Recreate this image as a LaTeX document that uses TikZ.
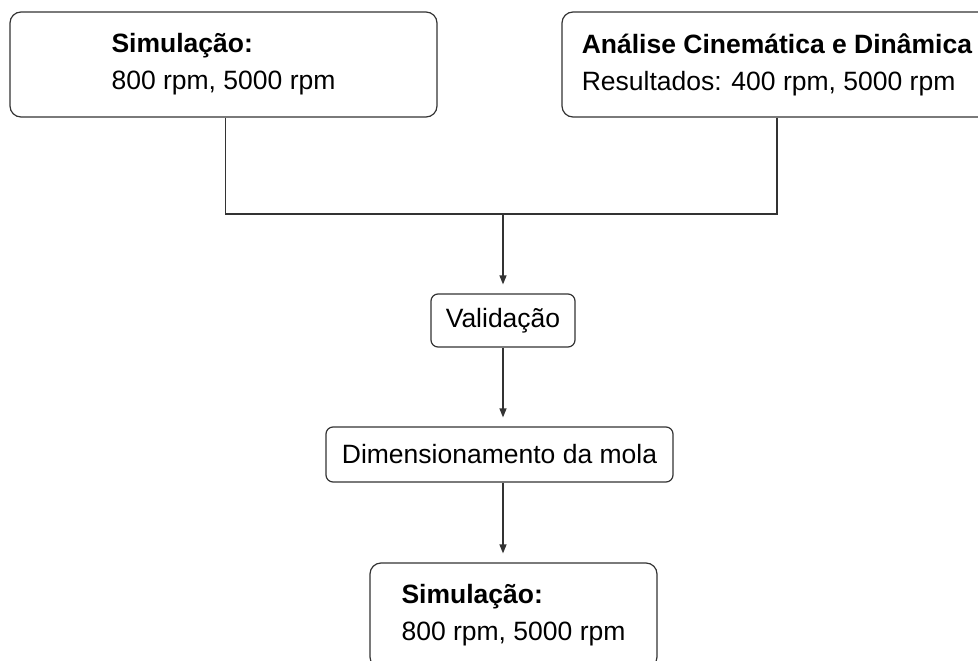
\documentclass[tikz,border=0pt]{standalone}
\usepackage{fontspec}
\setmainfont{Liberation Sans}
\usetikzlibrary{arrows.meta,calc}
\definecolor{ln}{HTML}{333333}
\tikzset{
  box/.style={draw=ln, line width=1.2pt, rounded corners=11pt, inner sep=0pt,
    align=left, font=\fontsize{26.5}{37}\selectfont, text=black},
  sbox/.style={draw=ln, line width=1.2pt, rounded corners=7pt, inner sep=0pt,
    font=\fontsize{26.5}{37}\selectfont, text=black},
  conn/.style={draw=ln, line width=1.2pt},
  arr/.style={conn, -{Triangle[length=9pt,width=7pt]}, shorten >=9pt}
}
\begin{document}
\begin{tikzpicture}[x=1pt,y=-1pt]
\useasboundingbox (0,0) rectangle (978,661);
\clip (0,0) rectangle (978,661);
\node[box, minimum width=427pt, minimum height=105pt] (tl) at (223.5,64.5)
  {\textbf{Simulação:}\\800 rpm, 5000 rpm};
\node[box, minimum width=430pt, minimum height=105pt] (tr) at (777,64.5)
  {\textbf{Análise Cinemática e Dinâmica}\\Resultados: 400 rpm, 5000 rpm};
\node[sbox, minimum width=144pt, minimum height=53pt] (val) at (503,320.5) {Validação};
\node[sbox, minimum width=347pt, minimum height=55pt] (dim) at (499.5,454.5) {Dimensionamento da mola};
\node[box, minimum width=287pt, minimum height=105pt] (bot) at (513.5,615.5)
  {\textbf{Simulação:}\\800 rpm, 5000 rpm};
\coordinate (j) at (503,214);
\coordinate (tlb) at ([xshift=2pt]tl.south);
\draw[conn] (tlb) |- (j);
\draw[conn] (tr.south) |- (j);
\draw[arr] (j) -- (val.north);
\draw[arr] (val.south) -- (val.south |- dim.north);
\draw[arr] (dim.south -| val.south) -- (bot.north -| val.south);
\end{tikzpicture}
\end{document}
